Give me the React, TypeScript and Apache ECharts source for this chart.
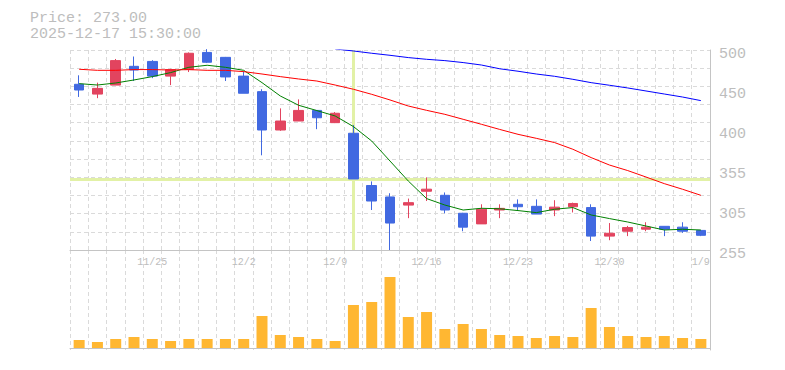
import React, { useEffect, useRef } from 'react';
import * as echarts from 'echarts';

const dates = [
  '11/18', '11/19', '11/20', '11/21', '11/25', '11/26', '11/27', '11/28', '12/1', '12/2',
  '12/3', '12/4', '12/5', '12/8', '12/9', '12/10', '12/11', '12/12', '12/15', '12/16',
  '12/17', '12/18', '12/19', '12/22', '12/23', '12/24', '12/25', '12/26', '12/29', '12/30',
  '1/5', '1/6', '1/7', '1/8', '1/9',
];
const opens = [
  458, 446, 457, 480, 486, 468, 476, 497, 491, 468,
  449, 402, 413, 426, 411, 398, 334, 320, 310, 327,
  322, 300, 287, 304, 311, 308.5, 304, 308, 307, 272,
  278, 280.5, 284, 283, 279,
];
const closes = [
  451, 453, 487, 475.5, 468, 476, 496, 485, 467, 447,
  402, 413, 426, 417, 422.5, 342, 315, 288, 313, 329.5,
  304, 283, 305, 306, 308, 299, 307.5, 312, 272, 275.5,
  282.5, 283, 280.5, 278, 273,
];
const lows = [
  442.5, 441, 457, 462, 465.5, 457, 473, 484, 462, 447,
  371, 401, 413, 403, 410.5, 342, 304, 255, 294, 315,
  300, 278, 287, 294, 303.5, 299, 296.5, 301, 266, 267,
  272, 278, 272, 276, 272,
];
const highs = [
  469, 460, 489, 492, 487.5, 477, 497, 501, 491.5, 474,
  452, 428.5, 439.5, 426.5, 424, 408, 339, 324.5, 318, 344,
  325.5, 300.5, 311, 311, 317, 317, 316, 313, 311, 288,
  284.5, 289, 284, 289, 279.5,
];
const maShort = [
  458.8, 457.1, 459.6, 463.3, 467.4, 472.3, 478.8, 481.3, 478.8, 475.1,
  460, 443.7, 432.3, 425.8, 419.2, 406.2, 388.5, 364, 339.5, 318,
  310.1, 304, 306.1, 305.5, 303.3, 300.8, 304.9, 307, 297.9, 293.5,
  289.3, 284.4, 279.5, 280.4, 279.5,
];
const maMid = [
  476.4, 475.1, 475.1, 476, 476, 475.5, 476, 475.1, 475.1, 473.5,
  470.6, 467.4, 464.5, 462, 457.1, 451.9, 445.7, 438.8, 431.4, 426.1,
  421.2, 415.1, 409, 402.7, 396.7, 391.8, 386.6, 378.4, 368.2, 359.1,
  352.3, 344.4, 336.3, 329.4, 322,
];
const maLong = [
  null, null, null, null, null, null, null, null, null, null,
  null, null, null, null, 501.2, 498.8, 496, 493.5, 490.7, 488.6,
  487, 484.6, 481.6, 477, 474, 470.6, 467.8, 464.1, 460, 456.8,
  453.5, 449.8, 446.1, 442.4, 438,
];
const volumes = [
  80, 60, 90, 110, 90, 70, 90, 90, 90, 90,
  320, 130, 110, 90, 70, 430, 460, 710, 310, 360,
  190, 240, 190, 130, 120, 100, 120, 110, 400, 210,
  120, 110, 120, 100, 90,
];
const priceTickLabels = ['255', '305', '355', '400', '450', '500'];
const shownDates = ['11/25', '12/2', '12/9', '12/16', '12/23', '12/30', '1/9'];
const crossDate = '12/10';
const crossPrice = 342;
const headerPrice = 'Price: 273.00';
const headerTime = '2025-12-17 15:30:00';

const FONT = '"Liberation Mono", "DejaVu Sans Mono", monospace';
const TXT = '#bdbdbd';
const AXIS = '#c4c4c4';
const GRIDC = '#dadada';

export default function App() {
  const ref = useRef<HTMLDivElement>(null);
  useEffect(() => {
    if (!ref.current) return;
    const chart = echarts.init(ref.current, undefined, { renderer: 'svg' });
    const candleData = dates.map((_, i) => [opens[i], closes[i], lows[i], highs[i]]);
    const dashed = { color: GRIDC, type: [4, 3] as any, width: 1 };
    chart.setOption({
      animation: false,
      grid: [
        { left: 70, right: 75, top: 50, height: 200 },
        { left: 70, right: 75, top: 250, height: 100 },
      ],
      graphic: [
        { type: 'text', left: 30, top: 11, style: { text: headerPrice, fill: TXT, font: `15px ${FONT}`, lineHeight: 15 } },
        { type: 'text', left: 30, top: 27, style: { text: headerTime, fill: TXT, font: `15px ${FONT}`, lineHeight: 15 } },
      ],
      xAxis: [
        {
          type: 'category', gridIndex: 0, data: dates, boundaryGap: true,
          axisLine: { show: true, lineStyle: { color: AXIS } },
          axisTick: { show: false, interval: 0 },
          axisLabel: {
            show: true, interval: (_i: number, v: string) => shownDates.includes(v),
            color: TXT, fontFamily: FONT, fontSize: 10, margin: 7,
          },
          splitLine: { show: true, interval: 0, lineStyle: dashed },
        },
        {
          type: 'category', gridIndex: 1, data: dates, boundaryGap: true,
          axisLine: { show: true, lineStyle: { color: AXIS } },
          axisTick: { show: false, interval: 0 },
          axisLabel: { show: false },
          splitLine: { show: true, interval: 0, lineStyle: dashed },
        },
      ],
      yAxis: [
        { type: 'value', gridIndex: 0, min: 255, max: 500, show: false },
        {
          type: 'value', gridIndex: 0, position: 'right', min: 0, max: 5, interval: 1,
          axisLine: { show: true, lineStyle: { color: AXIS } },
          axisTick: { show: false },
          splitLine: { show: false },
          axisLabel: {
            formatter: (v: number) => priceTickLabels[Math.round(v)] ?? '',
            color: TXT, fontFamily: FONT, fontSize: 15, margin: 9,
            verticalAlign: 'top', lineHeight: 9,
          },
        },
        {
          type: 'value', gridIndex: 0, position: 'left', min: 0, max: 11, interval: 1,
          axisLine: { show: false }, axisTick: { show: false }, axisLabel: { show: false },
          splitLine: { show: true, lineStyle: dashed },
        },
        {
          type: 'value', gridIndex: 1, position: 'right', min: -20, max: 980,
          axisLine: { show: true, lineStyle: { color: AXIS } },
          axisTick: { show: false }, axisLabel: { show: false }, splitLine: { show: false },
        },
      ],
      series: [
        {
          type: 'candlestick', xAxisIndex: 0, yAxisIndex: 0, data: candleData, barWidth: 10,
          itemStyle: { color: '#e2445f', color0: '#4169e1', borderColor: '#e2445f', borderColor0: '#4169e1', borderWidth: 1 },
          z: 3,
          markLine: {
            silent: true, symbol: 'none', z: 1, label: { show: false },
            lineStyle: { color: '#e2f1a6', width: 3, type: 'solid' },
            emphasis: { disabled: true },
            data: [{ xAxis: crossDate }, { yAxis: crossPrice }],
          },
        },
        {
          type: 'line', xAxisIndex: 0, yAxisIndex: 0, data: maShort, showSymbol: false, symbol: 'none',
          lineStyle: { color: '#008000', width: 1 }, z: 4,
        },
        {
          type: 'line', xAxisIndex: 0, yAxisIndex: 0, data: maMid, showSymbol: false, symbol: 'none',
          lineStyle: { color: '#ff0000', width: 1 }, z: 4,
        },
        {
          type: 'line', xAxisIndex: 0, yAxisIndex: 0, data: maLong, showSymbol: false, symbol: 'none',
          lineStyle: { color: '#0000ff', width: 1 }, z: 4,
        },
        {
          type: 'bar', xAxisIndex: 1, yAxisIndex: 3, data: volumes, barWidth: 11,
          itemStyle: { color: '#ffb732' },
        },
      ],
    });
    return () => chart.dispose();
  }, []);
  return <div ref={ref} style={{ position: 'absolute', left: 0, top: 0, width: 785, height: 370 }} />;
}
